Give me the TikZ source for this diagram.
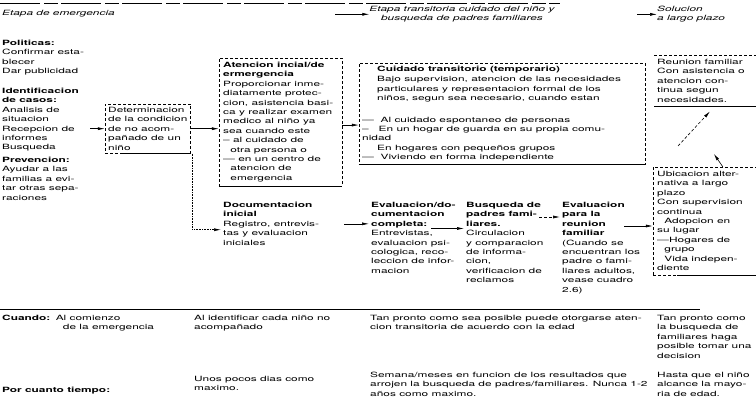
\documentclass[tikz,border=0pt]{standalone}
\usepackage{fontspec}
\setmainfont{TeX Gyre Heros}[FakeStretch=1.65]
\usetikzlibrary{arrows.meta,positioning,fit,calc}
\tikzset{
  txt/.style={anchor=north west,inner sep=0pt,align=left,font=\fontsize{7.2}{9.4}\selectfont},
  hdr/.style={txt,font=\fontsize{7.2}{9.4}\selectfont\itshape},
  bx/.style={draw,densely dashed,line width=0.4pt,inner sep=4pt},
  arr/.style={line width=0.6pt,-{Latex[length=7pt,width=3pt]}},
  rule/.style={line width=0.9pt}
}
\begin{document}
\begin{tikzpicture}[x=1pt,y=-1pt]
\useasboundingbox (0,0) rectangle (756,406);
\draw[line width=0.5pt,dash pattern=on 40pt off 4pt on 14pt off 3pt] (0,3) -- (560,3);
% etapas
\node[hdr] (etemerg) at (2,10) {Etapa de emergencia};
\node[hdr,anchor=north,align=center] (ettrans) at (462,6) {Etapa transitoria cuidado del niño y\\busqueda de padres familiares};
\node[hdr] (etlargo) at (657,6) {Solucion\\a largo plazo};
\draw[arr] ($(ettrans.west)+(-34,0)$) -- (ettrans.west);
\draw[arr] ($(etlargo.west)+(-20,0)$) -- (etlargo.west);
% columna izquierda
\node[txt] (polit) at (2,40) {\textbf{Politicas:}\\Confirmar esta-\\blecer\\Dar publicidad};
\node[txt] (ident) at (2,88) {\textbf{Identificacion}\\\textbf{de casos:}\\Analisis de\\situacion\\Recepcion de\\informes\\Busqueda};
\node[txt] (prev) at (2,157) {\textbf{Prevencion:}\\Ayudar a las\\familias a evi-\\tar otras sepa-\\raciones};
% etapa de emergencia
\node[txt] (dett) at (108,107) {Determinacion\\de la condicion\\de no acom-\\pañado de un\\niño};
\node[bx,fit=(dett),inner sep=3pt] (det) {};
\draw[rule] (det.south west) ++(18,0) -- (det.south east);
\node[txt] (atent) at (223,62) {\textbf{Atencion incial/de}\\\textbf{ermergencia}\\Proporcionar inme-\\diatamente protec-\\cion, asistencia basi-\\ca y realizar examen\\medico al niño ya\\sea cuando este\\-- al cuidado de\\\quad otra persona o\\--- en un centro de\\\quad atencion de\\\quad emergencia};
\coordinate (atenr) at (338,70);
\node[bx,fit=(atent)(atenr)] (aten) {};
\draw[rule] (aten.south west) -- (aten.south east);
\node[txt] (doct) at (223,202) {\textbf{Documentacion}\\\textbf{inicial}\\Registro, entrevis-\\tas y evaluacion\\iniciales};
\coordinate (ident-e) at (90,0);
\draw[arr] (ident-e |- det.west) -- (det.west);
\draw[arr] (det.east) -- (det.east -| aten.west);
\draw[arr,densely dotted] ([xshift=1pt]det.south east) |- ([xshift=-2pt,yshift=-6pt]doct.west);
% etapa transitoria
\node[txt] (cuidt) at (362,66) {\hspace*{15pt}\textbf{Cuidado transitorio (temporario)}\\[1pt]\hspace*{15pt}Bajo supervision, atencion de las necesidades\\\hspace*{15pt}particulares y representacion formal de los\\\hspace*{15pt}niños, segun sea necesario, cuando estan\\[12pt]--- \ Al cuidado espontaneo de personas\\-- \ \ En un hogar de guarda en su propia comu-\\nidad\\\hspace*{15pt}En hogares con pequeños grupos\\--- \ Viviendo en forma independiente};
\coordinate (cuidr) at (642,70);
\node[bx,fit=(cuidt)(cuidr),inner sep=3pt] (cuid) {};
\draw[rule] (cuid.south west) -- (cuid.south east);
\draw[arr] ([yshift=-3pt]aten.east) -- ([yshift=-3pt]aten.east -| cuid.west);
\node[txt] (evdoct) at (371,202) {\textbf{Evaluacion/do-}\\\textbf{cumentacion}\\\textbf{completa:}\\Entrevistas,\\evaluacion psi-\\cologica, reco-\\leccion de infor-\\macion};
\node[txt] (busqt) at (466,202) {\textbf{Busqueda de}\\\textbf{padres fami-}\\\textbf{liares.}\\Circulacion\\y comparacion\\de informa-\\cion,\\verificacion de\\reclamos};
\node[txt] (evreunt) at (562,202) {\textbf{Evaluacion}\\\textbf{para la}\\\textbf{reunion}\\\textbf{familiar}\\(Cuando se\\encuentran los\\padre o fami-\\liares adultos,\\vease cuadro\\2.6)};
\coordinate (doc-e) at (344,0);
\draw[arr] (doc-e |- evdoct.west) ++(0,-14) -- ($(evdoct.west)+(-2,-14)$);
\coordinate (evdoc-e) at (431,0);
\draw[arr] (evdoc-e |- busqt.west) ++(0,-14) -- ($(busqt.west)+(-2,-14)$);
\coordinate (busq-e) at (539,0);
\draw[arr,densely dashed] ($(busq-e |- evreunt.north)+(0,15)$) -- ($(evreunt.north west)+(-2,15)$);
% largo plazo
\node[txt] (reunt) at (657,59) {Reunion familiar\\Con asistencia o\\atencion con-\\tinua segun\\necesidades.};
\draw[densely dashed,line width=0.4pt] ($(reunt.north west)+(-3,-4)$) -- ++(102,0);
\draw[rule] ($(reunt.south west)+(-3,4)$) -- ++(102,0);
\node[txt] (ubict) at (657,171) {Ubicacion alter-\\nativa a largo\\plazo\\Con supervision\\continua\\\quad Adopcion en\\su lugar\\---Hogares de\\\quad grupo\\\quad Vida indepen-\\diente};
\coordinate (ubicr) at (760,172);
\node[bx,fit=(ubict)(ubicr)] (ubic) {};
\draw[rule] ($(ubic.south west)+(24,0)$) -- (ubic.south east);
\coordinate (evreun-e) at (624,226);
\draw[arr] (evreun-e) -- (evreun-e -| ubic.west);
\coordinate (diag) at (678,146);
\draw[arr,densely dashed] (diag) -- ($(reunt.south west)+(53,9)$);
\draw[arr] ($(ubic.north west)+(70,0)$) -- ++(-9,-13);
% filas inferiores
\draw[rule] (0,309) -- (700,309);
\node[txt] (cuando) at (2,315) {\textbf{Cuando:}};
\node[txt,right=5pt of cuando.north east,anchor=north west] (cuando1) {Al comienzo\\\quad de la emergencia};
\node[txt] (cuando2) at (194,315) {Al identificar cada niño no\\acompañado};
\node[txt] (cuando3) at (370,315) {Tan pronto como sea posible puede otorgarse aten-\\cion transitoria de acuerdo con la edad};
\node[txt] (cuando4) at (657,315) {Tan pronto como\\la busqueda de\\familiares haga\\posible tomar una\\decision};
\node[txt] (tiempo) at (2,387) {\textbf{Por cuanto tiempo:}};
\node[txt] (tiempo2) at (194,376) {Unos pocos dias como\\maximo.};
\node[txt] (tiempo3) at (370,372) {Semana/meses en funcion de los resultados que\\arrojen la busqueda de padres/familiares. Nunca 1-2\\años como maximo.};
\node[txt] (tiempo4) at (657,372) {Hasta que el niño\\alcance la mayo-\\ria de edad.};
\end{tikzpicture}
\end{document}
